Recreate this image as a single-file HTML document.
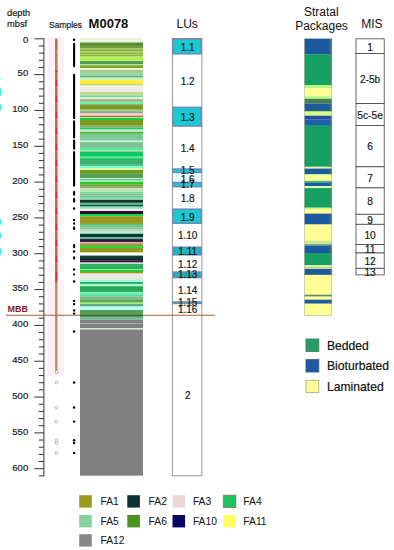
<!DOCTYPE html>
<html lang="en"><head><meta charset="utf-8"><title>M0078 stratigraphy</title>
<style>
html,body{margin:0;padding:0;background:#fff;}
body{width:394px;height:550px;position:relative;overflow:hidden;font-family:"Liberation Sans", Arial, Helvetica, sans-serif;}
svg text{font-family:"Liberation Sans", Arial, Helvetica, sans-serif;}
</style></head><body>
<svg width="394" height="550" viewBox="0 0 394 550" style="position:absolute;left:0;top:0" font-family='"Liberation Sans", Arial, Helvetica, sans-serif'>
<rect x="0.00" y="0.00" width="394.00" height="550.00" fill="#ffffff" />
<rect x="80.00" y="38.00" width="63.00" height="1.85" fill="#eeeed0" />
<rect x="80.00" y="39.80" width="63.00" height="2.75" fill="#e0fce8" />
<rect x="80.00" y="42.50" width="63.00" height="3.45" fill="#5c8c24" />
<rect x="80.00" y="45.90" width="63.00" height="2.75" fill="#70a040" />
<rect x="80.00" y="48.60" width="63.00" height="0.75" fill="#a8d070" />
<rect x="80.00" y="49.30" width="63.00" height="1.95" fill="#80b030" />
<rect x="80.00" y="51.20" width="63.00" height="1.25" fill="#a8d060" />
<rect x="80.00" y="52.40" width="63.00" height="1.55" fill="#88b838" />
<rect x="80.00" y="53.90" width="63.00" height="1.15" fill="#b0c870" />
<rect x="80.00" y="55.00" width="63.00" height="1.65" fill="#90b840" />
<rect x="80.00" y="56.60" width="63.00" height="4.55" fill="#b4ee58" />
<rect x="80.00" y="61.10" width="63.00" height="3.15" fill="#4c9c54" />
<rect x="80.00" y="64.20" width="63.00" height="1.15" fill="#b0e080" />
<rect x="80.00" y="65.30" width="63.00" height="2.75" fill="#78a828" />
<rect x="80.00" y="68.00" width="63.00" height="2.35" fill="#e8f8d8" />
<rect x="80.00" y="70.30" width="63.00" height="1.35" fill="#8aa848" />
<rect x="80.00" y="71.60" width="63.00" height="4.15" fill="#98d8a0" />
<rect x="80.00" y="75.70" width="63.00" height="1.95" fill="#6aa878" />
<rect x="80.00" y="77.60" width="63.00" height="2.45" fill="#c0f8c0" />
<rect x="80.00" y="80.00" width="63.00" height="4.05" fill="#ffee40" />
<rect x="80.00" y="84.00" width="63.00" height="1.65" fill="#c0d880" />
<rect x="80.00" y="85.60" width="63.00" height="2.75" fill="#f8ece6" />
<rect x="80.00" y="88.30" width="63.00" height="3.75" fill="#ecece6" />
<rect x="80.00" y="92.00" width="63.00" height="3.55" fill="#c8d890" />
<rect x="80.00" y="95.50" width="63.00" height="1.95" fill="#60e0a0" />
<rect x="80.00" y="97.40" width="63.00" height="1.95" fill="#f4e4dc" />
<rect x="80.00" y="99.30" width="63.00" height="2.35" fill="#98a870" />
<rect x="80.00" y="101.60" width="63.00" height="2.35" fill="#70f0b8" />
<rect x="80.00" y="103.90" width="63.00" height="1.25" fill="#90b070" />
<rect x="80.00" y="105.10" width="63.00" height="4.65" fill="#7a9a20" />
<rect x="80.00" y="109.70" width="63.00" height="1.55" fill="#b8cc80" />
<rect x="80.00" y="111.20" width="63.00" height="1.95" fill="#70b090" />
<rect x="80.00" y="113.10" width="63.00" height="2.75" fill="#ffc8c8" />
<rect x="80.00" y="115.80" width="63.00" height="1.25" fill="#c06040" />
<rect x="80.00" y="117.00" width="63.00" height="1.05" fill="#b0f0a0" />
<rect x="80.00" y="118.00" width="63.00" height="2.05" fill="#10d040" />
<rect x="80.00" y="120.00" width="63.00" height="5.75" fill="#7a9a20" />
<rect x="80.00" y="125.70" width="63.00" height="1.95" fill="#90a868" />
<rect x="80.00" y="127.60" width="63.00" height="1.95" fill="#10d060" />
<rect x="80.00" y="129.50" width="63.00" height="2.35" fill="#d0e0c0" />
<rect x="80.00" y="131.80" width="63.00" height="1.55" fill="#20d040" />
<rect x="80.00" y="133.30" width="63.00" height="0.75" fill="#80a030" />
<rect x="80.00" y="134.00" width="63.00" height="6.65" fill="#80c898" />
<rect x="80.00" y="140.60" width="63.00" height="1.65" fill="#b8f8d0" />
<rect x="80.00" y="142.20" width="63.00" height="5.75" fill="#80c090" />
<rect x="80.00" y="147.90" width="63.00" height="2.75" fill="#50f0a0" />
<rect x="80.00" y="150.60" width="63.00" height="1.15" fill="#b0c0a0" />
<rect x="80.00" y="151.70" width="63.00" height="5.05" fill="#10c860" />
<rect x="80.00" y="156.70" width="63.00" height="1.55" fill="#50f0a0" />
<rect x="80.00" y="158.20" width="63.00" height="1.85" fill="#20c060" />
<rect x="80.00" y="160.00" width="63.00" height="4.75" fill="#40b070" />
<rect x="80.00" y="164.70" width="63.00" height="1.15" fill="#10c060" />
<rect x="80.00" y="165.80" width="63.00" height="2.25" fill="#80f8d0" />
<rect x="80.00" y="168.00" width="63.00" height="2.05" fill="#d8f8b0" />
<rect x="80.00" y="170.00" width="63.00" height="3.85" fill="#6aa020" />
<rect x="80.00" y="173.80" width="63.00" height="4.25" fill="#5a9c58" />
<rect x="80.00" y="178.00" width="63.00" height="1.25" fill="#b0f8d0" />
<rect x="80.00" y="179.20" width="63.00" height="0.85" fill="#50b070" />
<rect x="80.00" y="180.00" width="63.00" height="2.05" fill="#a0e8b0" />
<rect x="80.00" y="182.00" width="63.00" height="2.25" fill="#28c828" />
<rect x="80.00" y="184.20" width="63.00" height="1.85" fill="#78a028" />
<rect x="80.00" y="186.00" width="63.00" height="2.05" fill="#90b080" />
<rect x="80.00" y="188.00" width="63.00" height="3.85" fill="#c0e8b0" />
<rect x="80.00" y="191.80" width="63.00" height="1.55" fill="#70e0a0" />
<rect x="80.00" y="193.30" width="63.00" height="2.35" fill="#90b890" />
<rect x="80.00" y="195.60" width="63.00" height="1.95" fill="#50d890" />
<rect x="80.00" y="197.50" width="63.00" height="1.25" fill="#80b090" />
<rect x="80.00" y="198.70" width="63.00" height="1.15" fill="#90f0c0" />
<rect x="80.00" y="199.80" width="63.00" height="3.05" fill="#0c3820" />
<rect x="80.00" y="202.80" width="63.00" height="1.95" fill="#60b8a0" />
<rect x="80.00" y="204.70" width="63.00" height="1.25" fill="#0c4030" />
<rect x="80.00" y="205.90" width="63.00" height="1.75" fill="#60b888" />
<rect x="80.00" y="207.60" width="63.00" height="1.45" fill="#a0f0d0" />
<rect x="80.00" y="209.00" width="63.00" height="2.05" fill="#f8e8f0" />
<rect x="80.00" y="211.00" width="63.00" height="3.05" fill="#2a1028" />
<rect x="80.00" y="214.00" width="63.00" height="2.35" fill="#10d850" />
<rect x="80.00" y="216.30" width="63.00" height="7.65" fill="#989820" />
<rect x="80.00" y="223.90" width="63.00" height="1.15" fill="#30e070" />
<rect x="80.00" y="225.00" width="63.00" height="2.75" fill="#90b890" />
<rect x="80.00" y="227.70" width="63.00" height="1.55" fill="#60d8a0" />
<rect x="80.00" y="229.20" width="63.00" height="2.35" fill="#c8d0b0" />
<rect x="80.00" y="231.50" width="63.00" height="2.35" fill="#a0f0d0" />
<rect x="80.00" y="233.80" width="63.00" height="3.45" fill="#083838" />
<rect x="80.00" y="237.20" width="63.00" height="1.55" fill="#70b0a0" />
<rect x="80.00" y="238.70" width="63.00" height="1.25" fill="#0a4038" />
<rect x="80.00" y="239.90" width="63.00" height="2.05" fill="#381030" />
<rect x="80.00" y="241.90" width="63.00" height="1.55" fill="#c8a8c0" />
<rect x="80.00" y="243.40" width="63.00" height="2.75" fill="#a09840" />
<rect x="80.00" y="246.10" width="63.00" height="1.95" fill="#20d830" />
<rect x="80.00" y="248.00" width="63.00" height="4.65" fill="#989820" />
<rect x="80.00" y="252.60" width="63.00" height="3.05" fill="#ffffff" />
<rect x="80.00" y="255.60" width="63.00" height="2.35" fill="#0a4028" />
<rect x="80.00" y="257.90" width="63.00" height="2.35" fill="#182838" />
<rect x="80.00" y="260.20" width="63.00" height="2.35" fill="#381038" />
<rect x="80.00" y="262.50" width="63.00" height="1.55" fill="#c0e0d0" />
<rect x="80.00" y="264.00" width="63.00" height="5.05" fill="#30b060" />
<rect x="80.00" y="269.00" width="63.00" height="1.05" fill="#80f0a0" />
<rect x="80.00" y="270.00" width="63.00" height="2.05" fill="#28c828" />
<rect x="80.00" y="272.00" width="63.00" height="1.55" fill="#90a030" />
<rect x="80.00" y="273.50" width="63.00" height="1.15" fill="#f4d8c0" />
<rect x="80.00" y="274.60" width="63.00" height="3.25" fill="#f6e6e8" />
<rect x="80.00" y="277.80" width="63.00" height="1.95" fill="#dcece2" />
<rect x="80.00" y="279.70" width="63.00" height="2.35" fill="#a0f8d8" />
<rect x="80.00" y="282.00" width="63.00" height="1.95" fill="#30a858" />
<rect x="80.00" y="283.90" width="63.00" height="2.35" fill="#a0f8d0" />
<rect x="80.00" y="286.20" width="63.00" height="5.75" fill="#28a858" />
<rect x="80.00" y="291.90" width="63.00" height="2.35" fill="#70f0b8" />
<rect x="80.00" y="294.20" width="63.00" height="2.35" fill="#50e098" />
<rect x="80.00" y="296.50" width="63.00" height="3.45" fill="#80b890" />
<rect x="80.00" y="299.90" width="63.00" height="2.75" fill="#58a850" />
<rect x="80.00" y="302.60" width="63.00" height="1.55" fill="#a0f080" />
<rect x="80.00" y="304.10" width="63.00" height="2.45" fill="#50a880" />
<rect x="80.00" y="306.50" width="63.00" height="3.55" fill="#b8fcf0" />
<rect x="80.00" y="310.00" width="63.00" height="5.85" fill="#58a058" />
<rect x="80.00" y="315.80" width="63.00" height="1.95" fill="#509870" />
<rect x="80.00" y="317.70" width="63.00" height="1.95" fill="#70c8a0" />
<rect x="80.00" y="319.60" width="63.00" height="3.45" fill="#808080" />
<rect x="80.00" y="323.00" width="63.00" height="1.05" fill="#b0b0a8" />
<rect x="80.00" y="324.00" width="63.00" height="4.05" fill="#808080" />
<rect x="80.00" y="328.00" width="63.00" height="1.55" fill="#d8e8d8" />
<rect x="80.00" y="329.50" width="63.00" height="146.15" fill="#808080" />
<line x1="43.9" y1="38.3" x2="43.9" y2="476.37" stroke="#333" stroke-width="1"/>
<line x1="34.3" y1="38.80" x2="43.9" y2="38.80" stroke="#333" stroke-width="1"/>
<text x="28.2" y="42.50" font-size="9.5" text-anchor="end" fill="#1a1a1a" stroke="#1a1a1a" stroke-width="0.2">0</text>
<line x1="38.8" y1="45.96" x2="43.9" y2="45.96" stroke="#333" stroke-width="1"/>
<line x1="38.8" y1="53.13" x2="43.9" y2="53.13" stroke="#333" stroke-width="1"/>
<line x1="38.8" y1="60.30" x2="43.9" y2="60.30" stroke="#333" stroke-width="1"/>
<line x1="38.8" y1="67.46" x2="43.9" y2="67.46" stroke="#333" stroke-width="1"/>
<line x1="34.3" y1="74.62" x2="43.9" y2="74.62" stroke="#333" stroke-width="1"/>
<text x="28.2" y="76.47" font-size="9.5" text-anchor="end" fill="#1a1a1a" stroke="#1a1a1a" stroke-width="0.2">50</text>
<line x1="38.8" y1="81.79" x2="43.9" y2="81.79" stroke="#333" stroke-width="1"/>
<line x1="38.8" y1="88.95" x2="43.9" y2="88.95" stroke="#333" stroke-width="1"/>
<line x1="38.8" y1="96.12" x2="43.9" y2="96.12" stroke="#333" stroke-width="1"/>
<line x1="38.8" y1="103.28" x2="43.9" y2="103.28" stroke="#333" stroke-width="1"/>
<line x1="34.3" y1="110.45" x2="43.9" y2="110.45" stroke="#333" stroke-width="1"/>
<text x="28.2" y="112.30" font-size="9.5" text-anchor="end" fill="#1a1a1a" stroke="#1a1a1a" stroke-width="0.2">100</text>
<line x1="38.8" y1="117.61" x2="43.9" y2="117.61" stroke="#333" stroke-width="1"/>
<line x1="38.8" y1="124.78" x2="43.9" y2="124.78" stroke="#333" stroke-width="1"/>
<line x1="38.8" y1="131.94" x2="43.9" y2="131.94" stroke="#333" stroke-width="1"/>
<line x1="38.8" y1="139.11" x2="43.9" y2="139.11" stroke="#333" stroke-width="1"/>
<line x1="34.3" y1="146.28" x2="43.9" y2="146.28" stroke="#333" stroke-width="1"/>
<text x="28.2" y="148.12" font-size="9.5" text-anchor="end" fill="#1a1a1a" stroke="#1a1a1a" stroke-width="0.2">150</text>
<line x1="38.8" y1="153.44" x2="43.9" y2="153.44" stroke="#333" stroke-width="1"/>
<line x1="38.8" y1="160.61" x2="43.9" y2="160.61" stroke="#333" stroke-width="1"/>
<line x1="38.8" y1="167.77" x2="43.9" y2="167.77" stroke="#333" stroke-width="1"/>
<line x1="38.8" y1="174.94" x2="43.9" y2="174.94" stroke="#333" stroke-width="1"/>
<line x1="34.3" y1="182.10" x2="43.9" y2="182.10" stroke="#333" stroke-width="1"/>
<text x="28.2" y="183.95" font-size="9.5" text-anchor="end" fill="#1a1a1a" stroke="#1a1a1a" stroke-width="0.2">200</text>
<line x1="38.8" y1="189.26" x2="43.9" y2="189.26" stroke="#333" stroke-width="1"/>
<line x1="38.8" y1="196.43" x2="43.9" y2="196.43" stroke="#333" stroke-width="1"/>
<line x1="38.8" y1="203.60" x2="43.9" y2="203.60" stroke="#333" stroke-width="1"/>
<line x1="38.8" y1="210.76" x2="43.9" y2="210.76" stroke="#333" stroke-width="1"/>
<line x1="34.3" y1="217.93" x2="43.9" y2="217.93" stroke="#333" stroke-width="1"/>
<text x="28.2" y="219.78" font-size="9.5" text-anchor="end" fill="#1a1a1a" stroke="#1a1a1a" stroke-width="0.2">250</text>
<line x1="38.8" y1="225.09" x2="43.9" y2="225.09" stroke="#333" stroke-width="1"/>
<line x1="38.8" y1="232.25" x2="43.9" y2="232.25" stroke="#333" stroke-width="1"/>
<line x1="38.8" y1="239.42" x2="43.9" y2="239.42" stroke="#333" stroke-width="1"/>
<line x1="38.8" y1="246.58" x2="43.9" y2="246.58" stroke="#333" stroke-width="1"/>
<line x1="34.3" y1="253.75" x2="43.9" y2="253.75" stroke="#333" stroke-width="1"/>
<text x="28.2" y="255.60" font-size="9.5" text-anchor="end" fill="#1a1a1a" stroke="#1a1a1a" stroke-width="0.2">300</text>
<line x1="38.8" y1="260.92" x2="43.9" y2="260.92" stroke="#333" stroke-width="1"/>
<line x1="38.8" y1="268.08" x2="43.9" y2="268.08" stroke="#333" stroke-width="1"/>
<line x1="38.8" y1="275.25" x2="43.9" y2="275.25" stroke="#333" stroke-width="1"/>
<line x1="38.8" y1="282.41" x2="43.9" y2="282.41" stroke="#333" stroke-width="1"/>
<line x1="34.3" y1="289.57" x2="43.9" y2="289.57" stroke="#333" stroke-width="1"/>
<text x="28.2" y="291.43" font-size="9.5" text-anchor="end" fill="#1a1a1a" stroke="#1a1a1a" stroke-width="0.2">350</text>
<line x1="38.8" y1="296.74" x2="43.9" y2="296.74" stroke="#333" stroke-width="1"/>
<line x1="38.8" y1="303.91" x2="43.9" y2="303.91" stroke="#333" stroke-width="1"/>
<line x1="38.8" y1="311.07" x2="43.9" y2="311.07" stroke="#333" stroke-width="1"/>
<line x1="38.8" y1="318.24" x2="43.9" y2="318.24" stroke="#333" stroke-width="1"/>
<line x1="34.3" y1="325.40" x2="43.9" y2="325.40" stroke="#333" stroke-width="1"/>
<text x="28.2" y="327.25" font-size="9.5" text-anchor="end" fill="#1a1a1a" stroke="#1a1a1a" stroke-width="0.2">400</text>
<line x1="38.8" y1="332.56" x2="43.9" y2="332.56" stroke="#333" stroke-width="1"/>
<line x1="38.8" y1="339.73" x2="43.9" y2="339.73" stroke="#333" stroke-width="1"/>
<line x1="38.8" y1="346.90" x2="43.9" y2="346.90" stroke="#333" stroke-width="1"/>
<line x1="38.8" y1="354.06" x2="43.9" y2="354.06" stroke="#333" stroke-width="1"/>
<line x1="34.3" y1="361.23" x2="43.9" y2="361.23" stroke="#333" stroke-width="1"/>
<text x="28.2" y="363.08" font-size="9.5" text-anchor="end" fill="#1a1a1a" stroke="#1a1a1a" stroke-width="0.2">450</text>
<line x1="38.8" y1="368.39" x2="43.9" y2="368.39" stroke="#333" stroke-width="1"/>
<line x1="38.8" y1="375.56" x2="43.9" y2="375.56" stroke="#333" stroke-width="1"/>
<line x1="38.8" y1="382.72" x2="43.9" y2="382.72" stroke="#333" stroke-width="1"/>
<line x1="38.8" y1="389.89" x2="43.9" y2="389.89" stroke="#333" stroke-width="1"/>
<line x1="34.3" y1="397.05" x2="43.9" y2="397.05" stroke="#333" stroke-width="1"/>
<text x="28.2" y="398.90" font-size="9.5" text-anchor="end" fill="#1a1a1a" stroke="#1a1a1a" stroke-width="0.2">500</text>
<line x1="38.8" y1="404.22" x2="43.9" y2="404.22" stroke="#333" stroke-width="1"/>
<line x1="38.8" y1="411.38" x2="43.9" y2="411.38" stroke="#333" stroke-width="1"/>
<line x1="38.8" y1="418.55" x2="43.9" y2="418.55" stroke="#333" stroke-width="1"/>
<line x1="38.8" y1="425.71" x2="43.9" y2="425.71" stroke="#333" stroke-width="1"/>
<line x1="34.3" y1="432.88" x2="43.9" y2="432.88" stroke="#333" stroke-width="1"/>
<text x="28.2" y="434.73" font-size="9.5" text-anchor="end" fill="#1a1a1a" stroke="#1a1a1a" stroke-width="0.2">550</text>
<line x1="38.8" y1="440.04" x2="43.9" y2="440.04" stroke="#333" stroke-width="1"/>
<line x1="38.8" y1="447.21" x2="43.9" y2="447.21" stroke="#333" stroke-width="1"/>
<line x1="38.8" y1="454.37" x2="43.9" y2="454.37" stroke="#333" stroke-width="1"/>
<line x1="38.8" y1="461.54" x2="43.9" y2="461.54" stroke="#333" stroke-width="1"/>
<line x1="34.3" y1="468.70" x2="43.9" y2="468.70" stroke="#333" stroke-width="1"/>
<text x="28.2" y="470.55" font-size="9.5" text-anchor="end" fill="#1a1a1a" stroke="#1a1a1a" stroke-width="0.2">600</text>
<line x1="38.8" y1="475.87" x2="43.9" y2="475.87" stroke="#333" stroke-width="1"/>
<text x="7.0" y="15.6" font-size="9.3" fill="#1a1a1a" stroke="#1a1a1a" stroke-width="0.2">depth</text>
<text x="7.0" y="27.4" font-size="9.3" fill="#1a1a1a" stroke="#1a1a1a" stroke-width="0.2">mbsf</text>
<text x="49" y="28.2" font-size="8.5" fill="#222" stroke="#222" stroke-width="0.2">Samples</text>
<text x="88.6" y="28.4" font-size="13" font-weight="bold" fill="#111">M0078</text>
<text x="187.2" y="28.4" font-size="12" text-anchor="middle" fill="#111">LUs</text>
<text x="321.3" y="16.2" font-size="12" text-anchor="middle" fill="#111">Stratal</text>
<text x="321.5" y="29.6" font-size="12" text-anchor="middle" fill="#111">Packages</text>
<text x="371.9" y="28.0" font-size="12" text-anchor="middle" fill="#111">MIS</text>
<rect x="48.00" y="37.00" width="16.00" height="339.00" fill="#fef0fa" />
<rect x="55.10" y="38.70" width="2.40" height="244.30" fill="#a6723a" />
<rect x="55.20" y="283.00" width="2.20" height="90.20" fill="#ae7e4a" />
<line x1="56.3" y1="50" x2="56.3" y2="70" stroke="#dcc09a" stroke-width="0.8" stroke-dasharray="0.8 1.2"/>
<line x1="56.3" y1="284" x2="56.3" y2="372" stroke="#e4caa6" stroke-width="0.8" stroke-dasharray="0.8 1.2"/>
<rect x="55.10" y="70.40" width="2.40" height="1.90" fill="#ff2238" />
<rect x="47.50" y="80.00" width="17.00" height="8.00" fill="#ffffff" />
<rect x="55.10" y="80.00" width="2.40" height="7.60" fill="#ff2238" />
<rect x="47.50" y="96.00" width="17.00" height="8.00" fill="#ffffff" />
<rect x="55.10" y="96.00" width="2.40" height="7.60" fill="#ff2238" />
<rect x="47.50" y="112.00" width="17.00" height="8.00" fill="#ffffff" />
<rect x="55.10" y="112.00" width="2.40" height="7.60" fill="#ff2238" />
<rect x="47.50" y="128.00" width="17.00" height="8.00" fill="#ffffff" />
<rect x="55.10" y="128.00" width="2.40" height="7.60" fill="#ff2238" />
<rect x="47.50" y="144.00" width="17.00" height="8.00" fill="#ffffff" />
<rect x="55.10" y="144.00" width="2.40" height="7.60" fill="#ff2238" />
<rect x="47.50" y="160.00" width="17.00" height="8.00" fill="#ffffff" />
<rect x="55.10" y="160.00" width="2.40" height="7.60" fill="#ff2238" />
<rect x="47.50" y="176.00" width="17.00" height="8.00" fill="#ffffff" />
<rect x="55.10" y="176.00" width="2.40" height="7.60" fill="#ff2238" />
<rect x="47.50" y="192.00" width="17.00" height="8.00" fill="#ffffff" />
<rect x="55.10" y="192.00" width="2.40" height="7.60" fill="#ff2238" />
<rect x="47.50" y="208.00" width="17.00" height="8.00" fill="#ffffff" />
<rect x="55.10" y="208.00" width="2.40" height="7.60" fill="#ff2238" />
<rect x="47.50" y="224.00" width="17.00" height="8.00" fill="#ffffff" />
<rect x="55.10" y="224.00" width="2.40" height="7.60" fill="#ff2238" />
<rect x="47.50" y="240.00" width="17.00" height="8.00" fill="#ffffff" />
<rect x="55.10" y="240.00" width="2.40" height="7.60" fill="#ff2238" />
<rect x="47.50" y="256.00" width="17.00" height="8.00" fill="#ffffff" />
<rect x="55.10" y="256.00" width="2.40" height="7.60" fill="#ff2238" />
<rect x="47.50" y="272.00" width="17.00" height="8.00" fill="#ffffff" />
<rect x="55.10" y="272.00" width="2.40" height="8.20" fill="#ff2238" />
<rect x="0.00" y="78.60" width="1.00" height="1.00" fill="#40e6f2" />
<rect x="1.00" y="78.60" width="1.60" height="1.00" fill="#d8fafc" />
<rect x="0.00" y="88.20" width="1.00" height="7.40" fill="#40e6f2" />
<rect x="1.00" y="88.20" width="1.60" height="7.40" fill="#d8fafc" />
<rect x="0.00" y="104.20" width="1.00" height="6.00" fill="#40e6f2" />
<rect x="1.00" y="104.20" width="1.60" height="6.00" fill="#d8fafc" />
<rect x="0.00" y="219.00" width="1.00" height="5.60" fill="#40e6f2" />
<rect x="1.00" y="219.00" width="1.60" height="5.60" fill="#d8fafc" />
<rect x="0.00" y="233.00" width="1.00" height="5.00" fill="#40e6f2" />
<rect x="1.00" y="233.00" width="1.60" height="5.00" fill="#d8fafc" />
<rect x="0.00" y="248.30" width="1.00" height="6.40" fill="#40e6f2" />
<rect x="1.00" y="248.30" width="1.60" height="6.40" fill="#d8fafc" />
<circle cx="56.5" cy="372" r="1.4" fill="#fff" stroke="#b8977a" stroke-width="0.7"/>
<circle cx="56.5" cy="382.5" r="1.4" fill="#fff" stroke="#b8977a" stroke-width="0.7"/>
<circle cx="56.5" cy="407.5" r="1.4" fill="#fff" stroke="#b8977a" stroke-width="0.7"/>
<circle cx="56.5" cy="421.6" r="1.4" fill="#fff" stroke="#b8977a" stroke-width="0.7"/>
<circle cx="56.5" cy="440.2" r="1.4" fill="#fff" stroke="#b8977a" stroke-width="0.7"/>
<circle cx="56.5" cy="443" r="1.4" fill="#fff" stroke="#b8977a" stroke-width="0.7"/>
<circle cx="56.5" cy="452.9" r="1.4" fill="#fff" stroke="#b8977a" stroke-width="0.7"/>
<line x1="74.1" y1="43.70" x2="74.1" y2="66.30" stroke="#000" stroke-width="2.1" stroke-linecap="round"/>
<line x1="74.1" y1="74.70" x2="74.1" y2="118.20" stroke="#000" stroke-width="2.1" stroke-linecap="round"/>
<line x1="74.1" y1="121.40" x2="74.1" y2="137.40" stroke="#000" stroke-width="2.1" stroke-linecap="round"/>
<line x1="74.1" y1="140.60" x2="74.1" y2="148.80" stroke="#000" stroke-width="2.1" stroke-linecap="round"/>
<line x1="74.1" y1="152.00" x2="74.1" y2="185.70" stroke="#000" stroke-width="2.1" stroke-linecap="round"/>
<line x1="74.1" y1="191.90" x2="74.1" y2="194.60" stroke="#000" stroke-width="2.1" stroke-linecap="round"/>
<line x1="74.1" y1="198.90" x2="74.1" y2="201.60" stroke="#000" stroke-width="2.1" stroke-linecap="round"/>
<line x1="74.1" y1="223.40" x2="74.1" y2="223.80" stroke="#000" stroke-width="2.1" stroke-linecap="round"/>
<line x1="74.1" y1="227.60" x2="74.1" y2="228.30" stroke="#000" stroke-width="2.1" stroke-linecap="round"/>
<line x1="74.1" y1="245.10" x2="74.1" y2="247.20" stroke="#000" stroke-width="2.1" stroke-linecap="round"/>
<line x1="74.1" y1="257.20" x2="74.1" y2="258.60" stroke="#000" stroke-width="2.1" stroke-linecap="round"/>
<line x1="74.1" y1="274.40" x2="74.1" y2="274.50" stroke="#000" stroke-width="2.1" stroke-linecap="round"/>
<circle cx="74.1" cy="39.8" r="1.2" fill="#000"/>
<circle cx="74.1" cy="208.5" r="1.2" fill="#000"/>
<circle cx="74.1" cy="220" r="1.2" fill="#000"/>
<circle cx="74.1" cy="228.7" r="1.2" fill="#000"/>
<circle cx="74.1" cy="251.5" r="1.2" fill="#000"/>
<circle cx="74.1" cy="269.4" r="1.2" fill="#000"/>
<circle cx="74.1" cy="281.5" r="1.2" fill="#000"/>
<circle cx="74.1" cy="300.9" r="1.2" fill="#000"/>
<circle cx="74.1" cy="304.1" r="1.2" fill="#000"/>
<circle cx="74.1" cy="310.5" r="1.2" fill="#000"/>
<circle cx="74.1" cy="313.6" r="1.2" fill="#000"/>
<circle cx="74.1" cy="331.5" r="1.2" fill="#000"/>
<circle cx="74.1" cy="382.5" r="1.2" fill="#000"/>
<circle cx="74.1" cy="407.5" r="1.2" fill="#000"/>
<circle cx="74.1" cy="421.6" r="1.2" fill="#000"/>
<circle cx="74.1" cy="440.2" r="1.2" fill="#000"/>
<circle cx="74.1" cy="443" r="1.2" fill="#000"/>
<circle cx="74.1" cy="452.9" r="1.2" fill="#000"/>
<rect x="172.30" y="38.40" width="29.60" height="16.20" fill="#6c8cbc" />
<rect x="173.80" y="39.90" width="26.60" height="13.20" fill="#1cc8d2" />
<rect x="172.30" y="106.60" width="29.60" height="20.20" fill="#6c8cbc" />
<rect x="173.80" y="108.10" width="26.60" height="17.20" fill="#1cc8d2" />
<rect x="172.30" y="168.30" width="29.60" height="5.10" fill="#6c8cbc" />
<rect x="173.80" y="169.80" width="26.60" height="2.10" fill="#1cc8d2" />
<rect x="172.30" y="173.40" width="29.60" height="8.40" fill="#e4fcfc" />
<rect x="172.30" y="181.80" width="29.60" height="5.60" fill="#6c8cbc" />
<rect x="173.80" y="183.30" width="26.60" height="2.60" fill="#1cc8d2" />
<rect x="172.30" y="208.40" width="29.60" height="15.60" fill="#6c8cbc" />
<rect x="173.80" y="209.90" width="26.60" height="12.60" fill="#1cc8d2" />
<rect x="172.30" y="246.40" width="29.60" height="9.20" fill="#6c8cbc" />
<rect x="173.80" y="247.90" width="26.60" height="6.20" fill="#20b4bc" />
<rect x="172.30" y="271.30" width="29.60" height="7.00" fill="#6c8cbc" />
<rect x="173.80" y="272.80" width="26.60" height="4.00" fill="#28aab4" />
<rect x="172.30" y="301.20" width="29.60" height="3.00" fill="#6c8cbc" />
<rect x="172.3" y="38.4" width="29.60" height="437.40" fill="none" stroke="#7c7c84" stroke-width="0.8"/>
<text x="187.7" y="50.70" font-size="10" text-anchor="middle" fill="#1a1a1a" stroke="#1a1a1a" stroke-width="0.2">1.1</text>
<text x="187.7" y="85.00" font-size="10" text-anchor="middle" fill="#1a1a1a" stroke="#1a1a1a" stroke-width="0.2">1.2</text>
<text x="187.7" y="121.20" font-size="10" text-anchor="middle" fill="#1a1a1a" stroke="#1a1a1a" stroke-width="0.2">1.3</text>
<text x="187.7" y="152.10" font-size="10" text-anchor="middle" fill="#1a1a1a" stroke="#1a1a1a" stroke-width="0.2">1.4</text>
<text x="187.7" y="174.40" font-size="10" text-anchor="middle" fill="#1a1a1a" stroke="#1a1a1a" stroke-width="0.2">1.5</text>
<text x="187.7" y="182.60" font-size="10" text-anchor="middle" fill="#1a1a1a" stroke="#1a1a1a" stroke-width="0.2">1.6</text>
<text x="187.7" y="188.40" font-size="10" text-anchor="middle" fill="#1a1a1a" stroke="#1a1a1a" stroke-width="0.2">1.7</text>
<text x="187.7" y="201.80" font-size="10" text-anchor="middle" fill="#1a1a1a" stroke="#1a1a1a" stroke-width="0.2">1.8</text>
<text x="187.7" y="220.80" font-size="10" text-anchor="middle" fill="#1a1a1a" stroke="#1a1a1a" stroke-width="0.2">1.9</text>
<text x="187.7" y="239.40" font-size="10" text-anchor="middle" fill="#1a1a1a" stroke="#1a1a1a" stroke-width="0.2">1.10</text>
<text x="187.7" y="255.20" font-size="10" text-anchor="middle" fill="#1a1a1a" stroke="#1a1a1a" stroke-width="0.2">1.11</text>
<text x="187.7" y="267.60" font-size="10" text-anchor="middle" fill="#1a1a1a" stroke="#1a1a1a" stroke-width="0.2">1.12</text>
<text x="187.7" y="278.30" font-size="10" text-anchor="middle" fill="#1a1a1a" stroke="#1a1a1a" stroke-width="0.2">1.13</text>
<text x="187.7" y="293.80" font-size="10" text-anchor="middle" fill="#1a1a1a" stroke="#1a1a1a" stroke-width="0.2">1.14</text>
<text x="187.7" y="305.50" font-size="10" text-anchor="middle" fill="#1a1a1a" stroke="#1a1a1a" stroke-width="0.2">1.15</text>
<text x="187.7" y="313.20" font-size="10" text-anchor="middle" fill="#1a1a1a" stroke="#1a1a1a" stroke-width="0.2">1.16</text>
<text x="187.7" y="399.20" font-size="10" text-anchor="middle" fill="#1a1a1a" stroke="#1a1a1a" stroke-width="0.2">2</text>
<line x1="6" y1="315.3" x2="80" y2="315.3" stroke="#a0522d" stroke-width="1.1" opacity="0.9"/>
<line x1="80" y1="315.3" x2="143" y2="315.3" stroke="#4c6438" stroke-width="1.2"/>
<line x1="143" y1="315.3" x2="215" y2="315.3" stroke="#a0522d" stroke-width="1.1" opacity="0.9"/>
<text x="7.4" y="311.8" font-size="9" font-weight="bold" fill="#8b1c1c">MBB</text>
<rect x="304.60" y="38.80" width="27.20" height="15.35" fill="#1c5aa0" />
<rect x="329.20" y="38.80" width="2.60" height="15.35" fill="#70787c" opacity="0.38"/>
<rect x="304.60" y="38.80" width="0.90" height="15.35" fill="#506068" opacity="0.3"/>
<rect x="304.60" y="54.10" width="27.20" height="30.95" fill="#16a062" />
<rect x="329.20" y="54.10" width="2.60" height="30.95" fill="#70787c" opacity="0.38"/>
<rect x="304.60" y="54.10" width="0.90" height="30.95" fill="#506068" opacity="0.3"/>
<rect x="304.60" y="85.00" width="27.20" height="3.05" fill="#b4f884" />
<rect x="304.60" y="88.00" width="27.20" height="8.25" fill="#ffff94" />
<rect x="304.60" y="96.20" width="27.20" height="2.65" fill="#b4f884" />
<rect x="304.60" y="98.80" width="27.20" height="4.95" fill="#4a7c54" />
<rect x="304.60" y="103.70" width="27.20" height="6.35" fill="#1c5aa0" />
<rect x="329.20" y="103.70" width="2.60" height="6.35" fill="#70787c" opacity="0.38"/>
<rect x="304.60" y="103.70" width="0.90" height="6.35" fill="#506068" opacity="0.3"/>
<rect x="304.60" y="110.00" width="27.20" height="1.55" fill="#207048" />
<rect x="304.60" y="111.50" width="27.20" height="4.25" fill="#d8ff88" />
<rect x="304.60" y="115.70" width="27.20" height="3.95" fill="#284ea2" />
<rect x="329.20" y="115.70" width="2.60" height="3.95" fill="#70787c" opacity="0.38"/>
<rect x="304.60" y="115.70" width="0.90" height="3.95" fill="#506068" opacity="0.3"/>
<rect x="304.60" y="119.60" width="27.20" height="6.25" fill="#1a60a4" />
<rect x="329.20" y="119.60" width="2.60" height="6.25" fill="#70787c" opacity="0.38"/>
<rect x="304.60" y="119.60" width="0.90" height="6.25" fill="#506068" opacity="0.3"/>
<rect x="304.60" y="125.80" width="27.20" height="41.05" fill="#16a062" />
<rect x="329.20" y="125.80" width="2.60" height="41.05" fill="#70787c" opacity="0.38"/>
<rect x="304.60" y="125.80" width="0.90" height="41.05" fill="#506068" opacity="0.3"/>
<rect x="304.60" y="166.80" width="27.20" height="1.85" fill="#e8f8a0" />
<rect x="304.60" y="168.60" width="27.20" height="5.55" fill="#1c5aa0" />
<rect x="329.20" y="168.60" width="2.60" height="5.55" fill="#70787c" opacity="0.38"/>
<rect x="304.60" y="168.60" width="0.90" height="5.55" fill="#506068" opacity="0.3"/>
<rect x="304.60" y="174.10" width="27.20" height="1.15" fill="#b4f884" />
<rect x="304.60" y="175.20" width="27.20" height="5.05" fill="#ffff94" />
<rect x="304.60" y="180.20" width="27.20" height="1.15" fill="#b4f884" />
<rect x="304.60" y="181.30" width="27.20" height="1.35" fill="#16a062" />
<rect x="329.20" y="181.30" width="2.60" height="1.35" fill="#70787c" opacity="0.38"/>
<rect x="304.60" y="181.30" width="0.90" height="1.35" fill="#506068" opacity="0.3"/>
<rect x="304.60" y="182.60" width="27.20" height="3.45" fill="#1c5aa0" />
<rect x="329.20" y="182.60" width="2.60" height="3.45" fill="#70787c" opacity="0.38"/>
<rect x="304.60" y="182.60" width="0.90" height="3.45" fill="#506068" opacity="0.3"/>
<rect x="304.60" y="186.00" width="27.20" height="2.15" fill="#e8f8b0" />
<rect x="304.60" y="188.10" width="27.20" height="19.65" fill="#16a062" />
<rect x="329.20" y="188.10" width="2.60" height="19.65" fill="#70787c" opacity="0.38"/>
<rect x="304.60" y="188.10" width="0.90" height="19.65" fill="#506068" opacity="0.3"/>
<rect x="304.60" y="207.70" width="27.20" height="1.25" fill="#b4f884" />
<rect x="304.60" y="208.90" width="27.20" height="4.75" fill="#ffff94" />
<rect x="304.60" y="213.60" width="27.20" height="10.95" fill="#1c5aa0" />
<rect x="329.20" y="213.60" width="2.60" height="10.95" fill="#70787c" opacity="0.38"/>
<rect x="304.60" y="213.60" width="0.90" height="10.95" fill="#506068" opacity="0.3"/>
<rect x="304.60" y="224.50" width="27.20" height="16.25" fill="#ffff94" />
<rect x="304.60" y="240.70" width="27.20" height="3.65" fill="#c8e890" />
<rect x="304.60" y="244.30" width="27.20" height="1.35" fill="#5a8a6a" />
<rect x="304.60" y="245.60" width="27.20" height="7.45" fill="#1c5aa0" />
<rect x="329.20" y="245.60" width="2.60" height="7.45" fill="#70787c" opacity="0.38"/>
<rect x="304.60" y="245.60" width="0.90" height="7.45" fill="#506068" opacity="0.3"/>
<rect x="304.60" y="253.00" width="27.20" height="12.45" fill="#16a062" />
<rect x="329.20" y="253.00" width="2.60" height="12.45" fill="#70787c" opacity="0.38"/>
<rect x="304.60" y="253.00" width="0.90" height="12.45" fill="#506068" opacity="0.3"/>
<rect x="304.60" y="265.40" width="27.20" height="1.65" fill="#ffff94" />
<rect x="304.60" y="267.00" width="27.20" height="0.65" fill="#16a062" />
<rect x="329.20" y="267.00" width="2.60" height="0.65" fill="#70787c" opacity="0.38"/>
<rect x="304.60" y="267.00" width="0.90" height="0.65" fill="#506068" opacity="0.3"/>
<rect x="304.60" y="267.60" width="27.20" height="1.25" fill="#ffff94" />
<rect x="304.60" y="268.80" width="27.20" height="6.15" fill="#1c5aa0" />
<rect x="329.20" y="268.80" width="2.60" height="6.15" fill="#70787c" opacity="0.38"/>
<rect x="304.60" y="268.80" width="0.90" height="6.15" fill="#506068" opacity="0.3"/>
<rect x="304.60" y="274.90" width="27.20" height="19.85" fill="#ffff94" />
<rect x="304.60" y="294.70" width="27.20" height="1.95" fill="#5a8a6a" />
<rect x="304.60" y="296.60" width="27.20" height="3.15" fill="#ffff94" />
<rect x="304.60" y="299.70" width="27.20" height="4.05" fill="#1c5aa0" />
<rect x="329.20" y="299.70" width="2.60" height="4.05" fill="#70787c" opacity="0.38"/>
<rect x="304.60" y="299.70" width="0.90" height="4.05" fill="#506068" opacity="0.3"/>
<rect x="304.60" y="303.70" width="27.20" height="11.95" fill="#ffff94" />
<rect x="304.6" y="38.8" width="27.20" height="276.80" fill="none" stroke="#6a8a6a" stroke-width="0.5" opacity="0.7"/>
<rect x="356.0" y="38.8" width="28.20" height="14.80" fill="#fff" stroke="#444" stroke-width="0.8"/>
<text x="370.10" y="50.50" font-size="10.2" text-anchor="middle" fill="#1a1a1a" stroke="#1a1a1a" stroke-width="0.2">1</text>
<rect x="356.0" y="53.6" width="28.20" height="49.90" fill="#fff" stroke="#444" stroke-width="0.8"/>
<text x="370.10" y="82.85" font-size="10.2" text-anchor="middle" fill="#1a1a1a" stroke="#1a1a1a" stroke-width="0.2">2-5b</text>
<rect x="356.0" y="103.5" width="28.20" height="21.90" fill="#fff" stroke="#444" stroke-width="0.8"/>
<text x="370.10" y="118.75" font-size="10.2" text-anchor="middle" fill="#1a1a1a" stroke="#1a1a1a" stroke-width="0.2">5c-5e</text>
<rect x="356.0" y="125.4" width="28.20" height="41.40" fill="#fff" stroke="#444" stroke-width="0.8"/>
<text x="370.10" y="150.40" font-size="10.2" text-anchor="middle" fill="#1a1a1a" stroke="#1a1a1a" stroke-width="0.2">6</text>
<rect x="356.0" y="166.8" width="28.20" height="21.10" fill="#fff" stroke="#444" stroke-width="0.8"/>
<text x="370.10" y="181.65" font-size="10.2" text-anchor="middle" fill="#1a1a1a" stroke="#1a1a1a" stroke-width="0.2">7</text>
<rect x="356.0" y="187.9" width="28.20" height="26.40" fill="#fff" stroke="#444" stroke-width="0.8"/>
<text x="370.10" y="205.40" font-size="10.2" text-anchor="middle" fill="#1a1a1a" stroke="#1a1a1a" stroke-width="0.2">8</text>
<rect x="356.0" y="214.3" width="28.20" height="10.00" fill="#fff" stroke="#444" stroke-width="0.8"/>
<text x="370.10" y="223.60" font-size="10.2" text-anchor="middle" fill="#1a1a1a" stroke="#1a1a1a" stroke-width="0.2">9</text>
<rect x="356.0" y="224.3" width="28.20" height="20.30" fill="#fff" stroke="#444" stroke-width="0.8"/>
<text x="370.10" y="238.75" font-size="10.2" text-anchor="middle" fill="#1a1a1a" stroke="#1a1a1a" stroke-width="0.2">10</text>
<rect x="356.0" y="244.6" width="28.20" height="8.40" fill="#fff" stroke="#444" stroke-width="0.8"/>
<text x="370.10" y="253.10" font-size="10.2" text-anchor="middle" fill="#1a1a1a" stroke="#1a1a1a" stroke-width="0.2">11</text>
<rect x="356.0" y="253.0" width="28.20" height="15.30" fill="#fff" stroke="#444" stroke-width="0.8"/>
<text x="370.10" y="264.95" font-size="10.2" text-anchor="middle" fill="#1a1a1a" stroke="#1a1a1a" stroke-width="0.2">12</text>
<rect x="356.0" y="268.3" width="28.20" height="6.60" fill="#fff" stroke="#444" stroke-width="0.8"/>
<text x="370.10" y="275.90" font-size="10.2" text-anchor="middle" fill="#1a1a1a" stroke="#1a1a1a" stroke-width="0.2">13</text>
<rect x="306" y="339.0" width="12.8" height="12.4" fill="#289a68" stroke="#3c7e5e" stroke-width="0.9"/>
<text x="327" y="349.50" font-size="12.15" fill="#111" stroke="#111" stroke-width="0.2">Bedded</text>
<rect x="306" y="359.6" width="12.8" height="12.4" fill="#1e5aa2" stroke="#3a5a90" stroke-width="0.9"/>
<text x="327" y="370.10" font-size="12.15" fill="#111" stroke="#111" stroke-width="0.2">Bioturbated</text>
<rect x="306" y="380.2" width="12.8" height="12.4" fill="#ffff98" stroke="#b0b080" stroke-width="0.9"/>
<text x="327" y="390.70" font-size="12.15" fill="#111" stroke="#111" stroke-width="0.2">Laminated</text>
<rect x="79.20" y="495.20" width="12.60" height="12.40" fill="#9a9a22" />
<text x="100.50" y="505.10" font-size="10.3" fill="#111">FA1</text>
<rect x="127.30" y="495.20" width="12.60" height="12.40" fill="#0e3030" />
<text x="148.60" y="505.10" font-size="10.3" fill="#111">FA2</text>
<rect x="172.50" y="495.20" width="12.60" height="12.40" fill="#e8d8d8" />
<text x="192.90" y="505.10" font-size="10.3" fill="#111">FA3</text>
<rect x="223.30" y="495.20" width="12.60" height="12.40" fill="#22c064" stroke="#8a7a50" stroke-width="0.8"/>
<text x="243.30" y="505.10" font-size="10.3" fill="#111">FA4</text>
<rect x="79.20" y="515.00" width="12.60" height="12.40" fill="#88d0a0" />
<text x="100.50" y="524.90" font-size="10.3" fill="#111">FA5</text>
<rect x="127.30" y="515.00" width="12.60" height="12.40" fill="#4a9222" />
<text x="148.60" y="524.90" font-size="10.3" fill="#111">FA6</text>
<rect x="172.50" y="515.00" width="12.60" height="12.40" fill="#080860" />
<text x="192.90" y="524.90" font-size="10.3" fill="#111">FA10</text>
<rect x="223.30" y="515.00" width="12.60" height="12.40" fill="#ffff60" />
<text x="243.30" y="524.90" font-size="10.3" fill="#111">FA11</text>
<rect x="79.20" y="534.20" width="12.60" height="12.40" fill="#888888" />
<text x="100.50" y="544.10" font-size="10.3" fill="#111">FA12</text>
</svg>
</body></html>
